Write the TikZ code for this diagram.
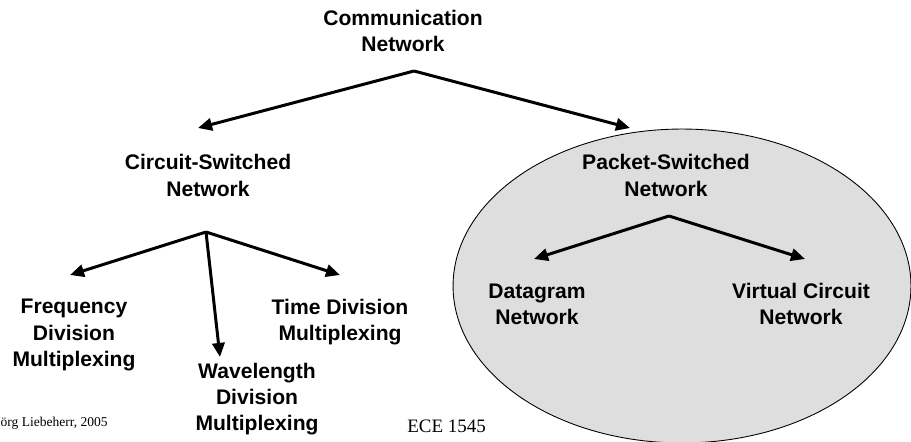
\documentclass[tikz,border=0pt]{standalone}
\usepackage{fontspec}
\setmainfont{Liberation Serif}
\setsansfont{Liberation Sans}
\usetikzlibrary{arrows.meta}
\definecolor{psgray}{gray}{0.87}

\begin{document}
\begin{tikzpicture}[x=0.02cm,y=-0.02cm,
		netlabel/.style={anchor=base,align=center,inner sep=0pt,font={\sffamily\bfseries\fontsize{12}{14.8}\selectfont}},
		branch/.style={-{Triangle[length=8pt,width=7pt]},line width=1.7pt}]
				\useasboundingbox (0,0) rectangle (911,442);
				\draw[fill=psgray,line width=0.5pt] (682,286) ellipse (4.58cm and 3.14cm);
				\node[netlabel] (comm) at (403,52) {Communication\\Network};
				\node[netlabel] (circ) at (208,196) {Circuit-Switched\\Network};
				\node[netlabel] (packet) at (666,196) {Packet-Switched\\Network};
				\node[netlabel] (freq) at (74,366) {Frequency\\Division\\Multiplexing};
				\node[netlabel] (time) at (340,340) {Time Division\\Multiplexing};
				\node[netlabel] (wave) at (257,430) {Wavelength\\Division\\Multiplexing};
				\node[netlabel] (dgram) at (537,324) {Datagram\\Network};
				\node[netlabel] (vcirc) at (801,324) {Virtual Circuit\\Network};
				\node[anchor=base east,inner sep=0pt,font=\fontsize{7.7}{9}\selectfont] (author) at (108,426) {Jörg Liebeherr, 2005};
				\node[anchor=base west,inner sep=0pt,font=\fontsize{10.8}{13}\selectfont] (course) at (407,432) {ECE 1545};
				\coordinate (comm-fork) at (414,71);
				\coordinate (circ-fork) at (206,232);
				\coordinate (packet-fork) at (669,216);
				\coordinate (circ-tip) at (198,128);
				\coordinate (packet-tip) at (630,128);
				\coordinate (freq-tip) at (70,275);
				\coordinate (wave-tip) at (220,357);
				\coordinate (time-tip) at (340,275);
				\coordinate (dgram-tip) at (534,259);
				\coordinate (vcirc-tip) at (805,259);
				\draw[branch] (comm-fork) -- (circ-tip);
				\draw[branch] (comm-fork) -- (packet-tip);
				\draw[branch] (circ-fork) -- (freq-tip);
				\draw[branch] (circ-fork) -- (wave-tip);
				\draw[branch] (circ-fork) -- (time-tip);
				\draw[branch] (packet-fork) -- (dgram-tip);
				\draw[branch] (packet-fork) -- (vcirc-tip);
			\end{tikzpicture}
\end{document}
